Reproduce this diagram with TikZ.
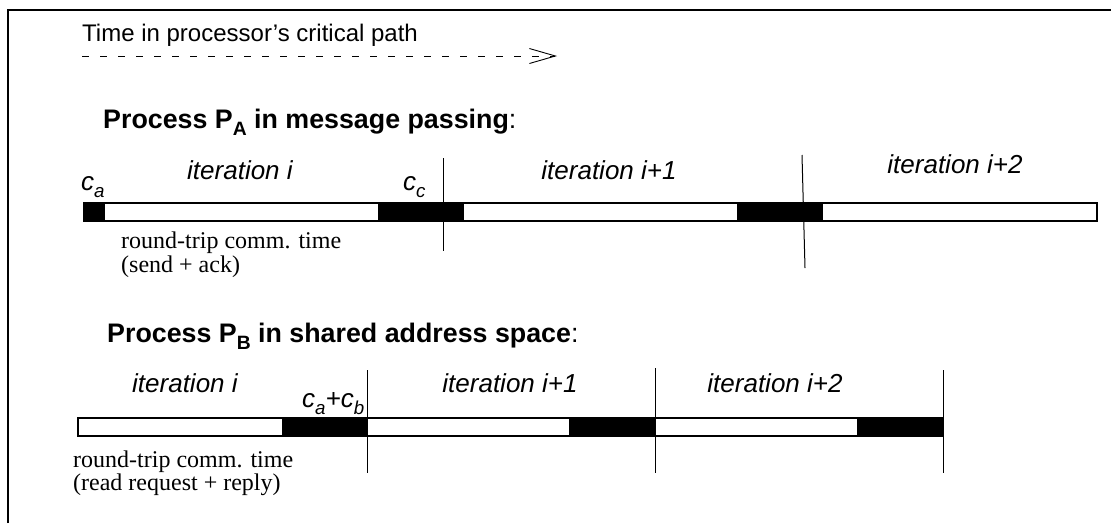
\documentclass[tikz,border=0pt]{standalone}
\usepackage{fontspec}
\setmainfont{Liberation Serif}
\newfontfamily\arial{Liberation Sans}
\usetikzlibrary{arrows.meta}
\newcommand\lsub[1]{\raisebox{-0.27em}{\scalebox{0.72}{#1}}}
\tikzset{
  lbl/.style={inner sep=0pt, anchor=base west},
  lblc/.style={inner sep=0pt, anchor=base},
  timefont/.style={font=\arial\fontsize{24}{28}\selectfont},
  headfont/.style={font=\arial\bfseries\fontsize{26.8}{30}\selectfont},
  iterfont/.style={font=\arial\itshape\fontsize{26}{30}\selectfont},
  notefont/.style={font=\fontsize{24}{28}\selectfont},
  seg/.style={draw=black, line width=1.1pt, fill=white},
  blk/.style={fill=black, draw=black, line width=1.1pt},
  tick/.style={line width=1pt},
  frameline/.style={line width=1.5pt},
  timearrow/.style={line width=0.8pt, dash pattern=on 7pt off 11pt,
    -{Straight Barb[length=26pt,width=15pt,line width=0.9pt]}}
}
\begin{document}
\begin{tikzpicture}[x=1pt,y=-1pt]
\useasboundingbox (0,0) rectangle (1111,523);
% frame
\coordinate (fbl) at (8,523);
\coordinate (ftl) at (8,10);
\coordinate (ftr) at (1111,10);
\draw[frameline] (fbl) -- (ftl) -- (ftr);

% time arrow
\node[lbl, timefont] (timelbl) at (82,41) {Time in processor’s critical path};
\coordinate (ta0) at (82,56);
\coordinate (ta1) at (557,56);
\draw[timearrow] (ta0) -- (ta1);

% ---------- Process A ----------
\node[lbl, headfont] (headA) at (103,128) {Process P\lsub{A} in message passing{\mdseries:}};
\draw[seg] (84,203) rectangle (1097,221);
\draw[blk] (84,203) rectangle (104,221);
\draw[blk] (379,203) rectangle (463,221);
\draw[blk] (738,203) rectangle (822,221);
\coordinate (a1t) at (443,158); \coordinate (a1b) at (443,251);
\coordinate (a2t) at (802,155); \coordinate (a2b) at (805,268);
\draw[tick] (a1t) -- (a1b);
\draw[tick] (a2t) -- (a2b);
\node[lbl, iterfont] (ca) at (81,190) {c\lsub{a}};
\node[lbl, iterfont] (itAi) at (187,179) {iteration i};
\node[lbl, iterfont] (cc) at (403,190) {c\lsub{c}};
\node[lblc, iterfont] (itAi1) at (609,179) {iteration i+1};
\node[lblc, iterfont] (itAi2) at (955,173) {iteration i+2};
\node[lbl, notefont] (noteA1) at (121,248) {round-trip comm. time};
\node[lbl, notefont] (noteA2) at (121,272) {(send + ack)};

% ---------- Process B ----------
\node[lbl, headfont] (headB) at (107,342) {Process P\lsub{B} in shared address space{\mdseries:}};
\draw[seg] (78,418) rectangle (943,436);
\draw[blk] (283,418) rectangle (367,436);
\draw[blk] (570,418) rectangle (655,436);
\draw[blk] (858,418) rectangle (943,436);
\coordinate (b1t) at (367,370); \coordinate (b1b) at (367,473);
\coordinate (b2t) at (655,368); \coordinate (b2b) at (655,473);
\coordinate (b3t) at (943,370); \coordinate (b3b) at (943,473);
\draw[tick] (b1t) -- (b1b);
\draw[tick] (b2t) -- (b2b);
\draw[tick] (b3t) -- (b3b);
\node[lbl, iterfont] (itBi) at (132,392) {iteration i};
\node[lbl, iterfont] (cab) at (302,407) {c\lsub{a}+c\lsub{b}};
\node[lblc, iterfont] (itBi1) at (510,392) {iteration i+1};
\node[lblc, iterfont] (itBi2) at (775,392) {iteration i+2};
\node[lbl, notefont] (noteB1) at (73,467) {round-trip comm. time};
\node[lbl, notefont] (noteB2) at (73,490) {(read request + reply)};
\end{tikzpicture}
\end{document}
